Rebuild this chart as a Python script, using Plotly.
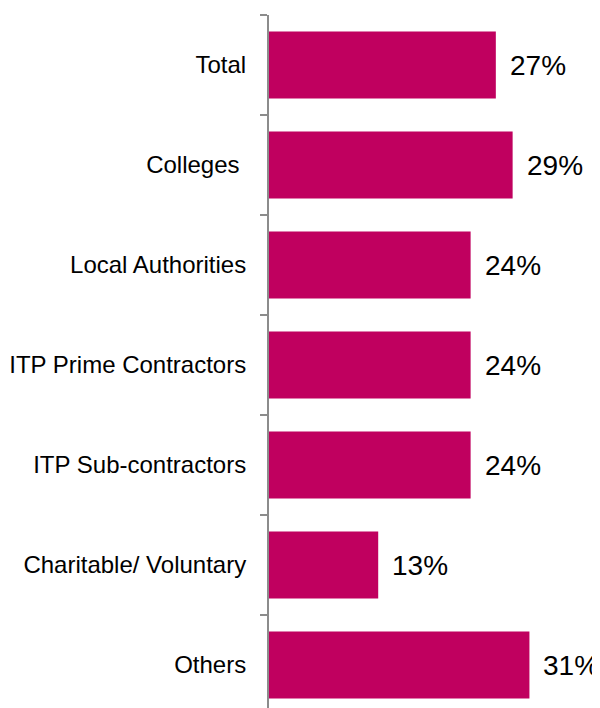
import plotly.graph_objects as go

categories = [
    "Total",
    "Colleges\u00a0",
    "Local Authorities",
    "ITP Prime Contractors",
    "ITP Sub-contractors",
    "Charitable/ Voluntary",
    "Others",
]
values = [27, 29, 24, 24, 24, 13, 31]
value_labels = [f"{v}%" for v in values]

bar_color = "#C0005F"
font_family = "Arial, Liberation Sans, sans-serif"

fig = go.Figure(
    go.Bar(
        x=values,
        y=categories,
        orientation="h",
        marker={"color": bar_color, "line": {"width": 0}},
        hoverinfo="skip",
    )
)

for cat, v, lab in zip(categories, values, value_labels):
    fig.add_annotation(
        x=v,
        y=cat,
        text=lab,
        showarrow=False,
        xanchor="left",
        xshift=12,
        font={"size": 28, "color": "black", "family": font_family},
    )

# page body adds an 8px margin, so the figure is shrunk and shifted to match
fig.update_layout(
    width=592,
    height=700,
    margin={"l": 261, "r": 0, "t": 7, "b": 0},
    plot_bgcolor="white",
    paper_bgcolor="white",
    bargap=0.33,
    showlegend=False,
    font={"family": font_family, "size": 24, "color": "black"},
)

fig.update_xaxes(
    range=[0, 39.4],
    visible=False,
)

fig.update_yaxes(
    categoryorder="array",
    categoryarray=categories,
    range=[6.43, -0.5],
    tickson="boundaries",
    ticks="outside",
    ticklen=7,
    tickwidth=1.5,
    tickcolor="#8c8c8c",
    showline=True,
    linecolor="#8c8c8c",
    linewidth=2,
    showgrid=False,
    zeroline=False,
    ticklabelstandoff=16,
    tickfont={"size": 24, "color": "black"},
)

fig.write_html("out.html")
